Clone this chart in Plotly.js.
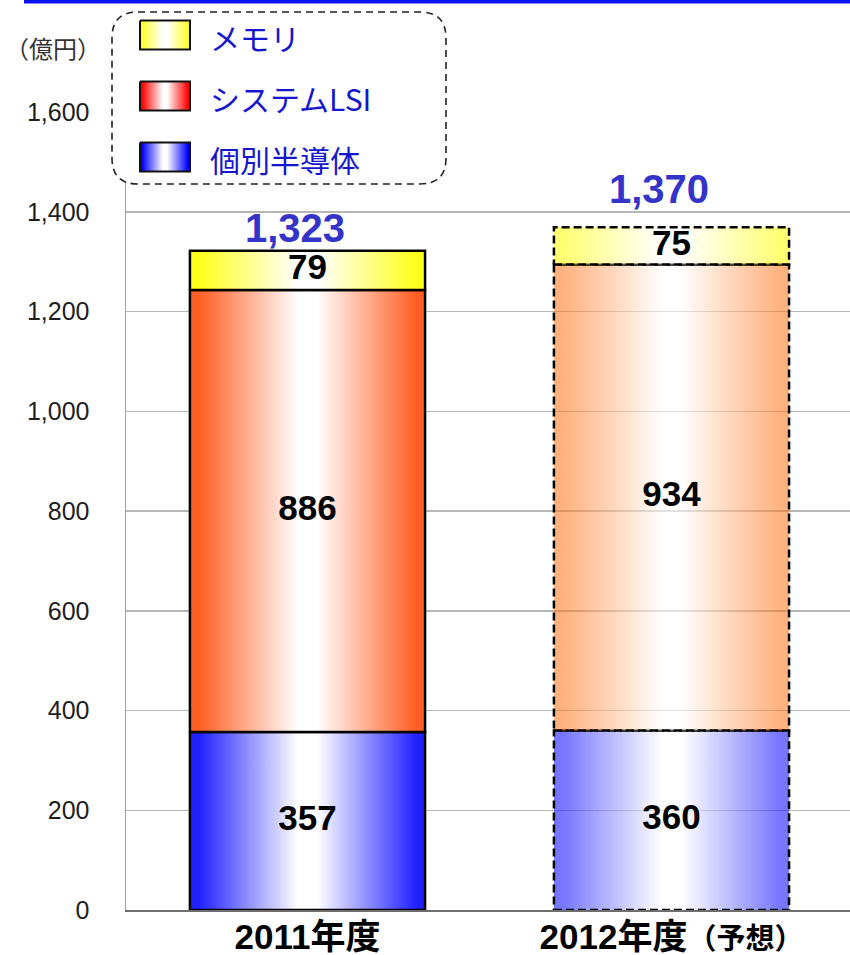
<!DOCTYPE html>
<html>
<head>
<meta charset="utf-8">
<script src="https://cdn.plot.ly/plotly-3.0.1.min.js"></script>
<style>
  html, body { margin: 0; padding: 0; background: #ffffff; }
  #chart { width: 850px; height: 955px; }
</style>
</head>
<body>
<div id="chart"></div>
<script>
// 半導体売上高（億円）の内訳
const categories = ['2011年度', '2012年度'];
const categoryNotes = ['', '（予想）'];
const seriesNames = ['個別半導体', 'システムLSI', 'メモリ'];
const discreteValues = [357, 360];
const systemLsiValues = [886, 934];
const memoryValues = [79, 75];
const totalValues = [1323, 1370];
const forecastFlags = [false, true];
const yTickValues = [0, 200, 400, 600, 800, 1000, 1200, 1400, 1600];

// ---- layout geometry (page pixels) ----
const W = 850, H = 955;
const plotLeft = 126, plotTop = 112, plotBottom = 910;
const xRange = [-0.4986, 1.4904];
const barHalf = 0.323;
const legendBox = { x0: 112, x1: 446, y0: 12, y1: 184, r: 26 };
const legendFrame = { x0: 106, x1: 452, y0: 6, y1: 190 };

const FONT = '"Liberation Sans", Arial, "Noto Sans CJK JP", sans-serif';
const CJK = '"Noto Sans CJK JP", "Liberation Sans", sans-serif';

// colours per series (bottom → top)
const solidColors = ['#2222ff', '#ff5f24', '#ffff1c'];
const forecastColors = ['rgba(34,34,255,0.62)', 'rgba(255,118,28,0.56)', 'rgba(255,255,28,0.62)'];
const swatchColors = ['#0000ff', '#ff0000', '#ffff30'];
const legendRowY = [157, 96, 35];

function sideGradient(edge, mid) {
  return {
    type: 'horizontal',
    colorscale: [[0, edge], [0.04, edge], [0.46, mid], [0.54, mid], [0.96, edge], [1, edge]]
  };
}

const seriesValues = [discreteValues, systemLsiValues, memoryValues];
const traces = [];

// stacked segments, drawn as gradient-filled rectangles on the data axes
const labelX = [], labelY = [], labelText = [];
categories.forEach((cat, i) => {
  let base = 0;
  seriesValues.forEach((vals, s) => {
    const v = vals[i];
    const top = base + v;
    const forecast = forecastFlags[i];
    traces.push({
      type: 'scatter', mode: 'lines',
      x: [i - barHalf, i + barHalf, i + barHalf, i - barHalf, i - barHalf],
      y: [base, base, top, top, base],
      fill: 'toself',
      fillgradient: forecast
        ? sideGradient(forecastColors[s], 'rgba(255,255,255,0.6)')
        : sideGradient(solidColors[s], '#ffffff'),
      line: { color: '#000000', width: 2.5, dash: forecast ? '8px,4px' : 'solid' },
      hoverinfo: 'skip', showlegend: false, xaxis: 'x', yaxis: 'y'
    });
    labelX.push(i);
    labelY.push(base + v / 2);
    labelText.push(String(v));
    base = top;
  });
});

// segment value labels
traces.push({
  type: 'scatter', mode: 'text',
  x: labelX, y: labelY, text: labelText,
  textposition: 'middle center',
  textfont: { family: FONT, size: 35, color: '#000000', weight: 'bold' },
  hoverinfo: 'skip', showlegend: false, xaxis: 'x', yaxis: 'y', cliponaxis: false
});

// legend swatches (legend axes use page-pixel units)
seriesNames.forEach((name, s) => {
  const cy = legendRowY[s];
  traces.push({
    type: 'scatter', mode: 'lines',
    x: [140, 190, 190, 140, 140],
    y: [cy - 14.5, cy - 14.5, cy + 14.5, cy + 14.5, cy - 14.5],
    fill: 'toself',
    fillgradient: sideGradient(swatchColors[s], '#ffffff'),
    line: { color: '#111111', width: 2 },
    hoverinfo: 'skip', showlegend: false, xaxis: 'x2', yaxis: 'y2'
  });
});

const annotations = [];
// unit label
annotations.push({
  xref: 'paper', yref: 'paper', x: 3 / W, y: 1 - 47 / H,
  xanchor: 'left', yanchor: 'middle', showarrow: false,
  text: '（億円）', font: { family: CJK, size: 24, color: '#333333' }
});
// legend texts
seriesNames.forEach((name, s) => {
  annotations.push({
    xref: 'x2', yref: 'y2', x: 208, y: legendRowY[s] + 2,
    xanchor: 'left', yanchor: 'middle', showarrow: false,
    text: name, font: { family: CJK, size: 30, color: '#1616cc' }
  });
});
// totals above the stacks
const totalShiftY = [-2, 14];
totalValues.forEach((t, i) => {
  annotations.push({
    xref: 'x', yref: 'y', x: i, y: t,
    xanchor: 'center', yanchor: 'bottom', showarrow: false,
    xshift: -12, yshift: totalShiftY[i],
    text: t.toLocaleString('en-US'),
    font: { family: FONT, size: 40, color: '#3434c8', weight: 'bold' }
  });
});

const r = legendBox.r;
const lb = legendBox;
const shapes = [
  // blue rule along the top edge
  {
    type: 'rect', xref: 'paper', yref: 'paper', layer: 'above',
    x0: 24 / W, x1: 1, y0: 1 - 3.5 / H, y1: 1,
    fillcolor: '#0a12f2', line: { width: 0 }
  },
  // rounded dashed legend frame
  {
    type: 'path', xref: 'x2', yref: 'y2', layer: 'below',
    path: `M ${lb.x0 + r},${lb.y0} H ${lb.x1 - r} Q ${lb.x1},${lb.y0} ${lb.x1},${lb.y0 + r} ` +
          `V ${lb.y1 - r} Q ${lb.x1},${lb.y1} ${lb.x1 - r},${lb.y1} H ${lb.x0 + r} ` +
          `Q ${lb.x0},${lb.y1} ${lb.x0},${lb.y1 - r} V ${lb.y0 + r} Q ${lb.x0},${lb.y0} ${lb.x0 + r},${lb.y0} Z`,
    fillcolor: '#ffffff',
    line: { color: '#222222', width: 1.6, dash: '7px,5px' }
  }
];

const tickText = categories.map((c, i) =>
  categoryNotes[i] ? c + '<span style="font-size:29px">' + categoryNotes[i] + '</span>' : c);

const layout = {
  width: W, height: H,
  margin: { l: 0, r: 0, t: 0, b: 0, pad: 0 },
  paper_bgcolor: '#ffffff', plot_bgcolor: 'rgba(0,0,0,0)',
  showlegend: false,
  xaxis: {
    domain: [plotLeft / W, 1], range: xRange, fixedrange: true,
    tickmode: 'array', tickvals: categories.map((c, i) => i), ticktext: tickText,
    showgrid: false, zeroline: false, ticks: '',
    showline: true, linecolor: '#6e6e6e', linewidth: 2,
    tickfont: { family: FONT, size: 35, color: '#000000', weight: 'bold' },
    ticklabelstandoff: -5, anchor: 'y'
  },
  yaxis: {
    domain: [(H - plotBottom) / H, (H - plotTop) / H], range: [0, 1600], fixedrange: true,
    tickmode: 'array', tickvals: yTickValues, tickformat: ',d',
    showgrid: true, gridcolor: '#b6b6b6', gridwidth: 1.5,
    zeroline: false, ticks: '',
    showline: true, linecolor: '#a0a0a0', linewidth: 1.5,
    tickfont: { family: FONT, size: 25, color: '#1e1e1e' },
    ticklabelstandoff: 30, anchor: 'x'
  },
  xaxis2: {
    domain: [legendFrame.x0 / W, legendFrame.x1 / W], range: [legendFrame.x0, legendFrame.x1],
    visible: false, fixedrange: true, anchor: 'y2'
  },
  yaxis2: {
    domain: [1 - legendFrame.y1 / H, 1 - legendFrame.y0 / H], range: [legendFrame.y1, legendFrame.y0],
    visible: false, fixedrange: true, anchor: 'x2'
  },
  shapes: shapes,
  annotations: annotations
};

Plotly.newPlot('chart', traces, layout, { displayModeBar: false, staticPlot: true });
</script>
</body>
</html>
